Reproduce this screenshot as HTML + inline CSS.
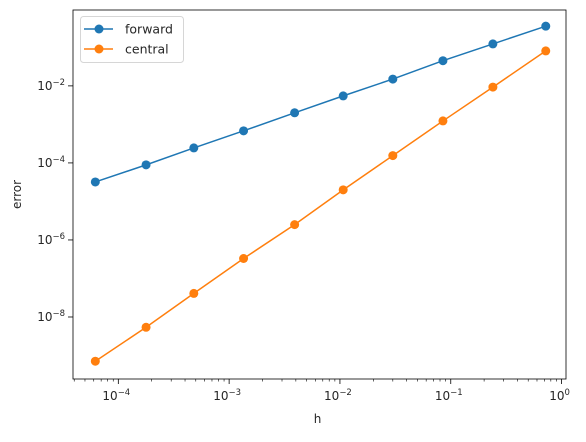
<!DOCTYPE html>
<html><head><meta charset="utf-8"><style>
body{margin:0;background:#fff;}
svg text{font-family:"DejaVu Sans","Liberation Sans",sans-serif;fill:#262626;}
</style></head><body>
<svg id="chart" width="586" height="437" xmlns="http://www.w3.org/2000/svg"></svg>
<script>
const hValues=[6.2e-5,1.78e-4,4.8e-4,1.35e-3,3.9e-3,1.07e-2,3.0e-2,8.5e-2,0.24,0.72];
const forwardErr=[3.2e-5,8.9e-5,2.45e-4,6.8e-4,2.0e-3,5.5e-3,1.5e-2,4.5e-2,0.123,0.355];
const centralErr=[7.1e-10,5.4e-9,4.1e-8,3.3e-7,2.5e-6,2.0e-5,1.55e-4,1.23e-3,9.3e-3,8.1e-2];
const xTicks=[-4,-3,-2,-1,0];
const yTicks=[-2,-4,-6,-8];
const seriesNames=["forward","central"];
const colors=["#1f77b4","#ff7f0e"];

const L=73,R=566,T=10,B=379;
const xMin=-4.409,xMax=0.040,yMin=-9.61,yMax=-0.03;
const X=v=>L+(Math.log10(v)-xMin)/(xMax-xMin)*(R-L);
const Y=v=>B-(Math.log10(v)-yMin)/(yMax-yMin)*(B-T);
const NS="http://www.w3.org/2000/svg";
const svg=document.getElementById('chart');
function mk(t,a,p){const e=document.createElementNS(NS,t);for(const k in a)e.setAttribute(k,a[k]);(p||svg).appendChild(e);return e;}

xTicks.forEach(d=>{
  const x=X(Math.pow(10,d));
  mk('line',{x1:x,x2:x,y1:B,y2:B+5,stroke:'#000','stroke-width':0.8});
  const t=mk('text',{x:x-2,y:B+21,'font-size':12,'text-anchor':'middle'});
  
  
  t.textContent='10';
  const s=mk('tspan',{dy:-5,'font-size':8.5},t);s.textContent=d<0?'\u2212'+Math.abs(d):'0';
});
for(let d=-5;d<=0;d++)for(let m=2;m<10;m++){
  const v=m*Math.pow(10,d);const lv=Math.log10(v);
  if(lv<xMin||lv>xMax)continue;
  const x=X(v);mk('line',{x1:x,x2:x,y1:B,y2:B+2.5,stroke:'#000','stroke-width':0.6});
}
yTicks.forEach(d=>{
  const y=Y(Math.pow(10,d));
  mk('line',{x1:L-5,x2:L,y1:y,y2:y,stroke:'#000','stroke-width':0.8});
  const t=mk('text',{x:L-8,y:y+4,'font-size':12,'text-anchor':'end'});
  
  
  t.textContent='10';
  const s=mk('tspan',{dy:-5,'font-size':8.5},t);s.textContent='\u2212'+Math.abs(d);
});
[forwardErr,centralErr].forEach((arr,i)=>{
  const g=mk('g',{});
  
  
  mk('polyline',{points:hValues.map((h,j)=>X(h)+','+Y(arr[j])).join(' '),fill:'none',stroke:colors[i],'stroke-width':1.5},g);
  hValues.forEach((h,j)=>{
    const c=mk('circle',{cx:X(h),cy:Y(arr[j]),r:4.5,fill:colors[i]},g);
    
    
  });
});
const fr=mk('rect',{x:L,y:T,width:R-L,height:B-T,fill:'none',stroke:'#000','stroke-width':0.8});


const xl=mk('text',{x:(L+R)/2-2,y:423,'font-size':12,'text-anchor':'middle'});


xl.textContent='h';
const yl=mk('text',{x:21,y:(T+B)/2,'font-size':12,'text-anchor':'middle',transform:'rotate(-90 21 '+((T+B)/2)+')'});


yl.textContent='error';
const lg=mk('g',{});


mk('rect',{x:80.5,y:16.5,width:103,height:46,rx:3,fill:'#fff',stroke:'#ccc','stroke-width':1,opacity:0.8},lg);
seriesNames.forEach((n,i)=>{
  const y=29+i*20;
  const e=mk('g',{},lg);
  
  
  mk('line',{x1:84,x2:113,y1:y,y2:y,stroke:colors[i],'stroke-width':1.5},e);
  mk('circle',{cx:99,cy:y,r:4.5,fill:colors[i]},e);
  const t=mk('text',{x:125,y:y+4.5,'font-size':12.5},e);t.textContent=n;
});
</script>
</body></html>
